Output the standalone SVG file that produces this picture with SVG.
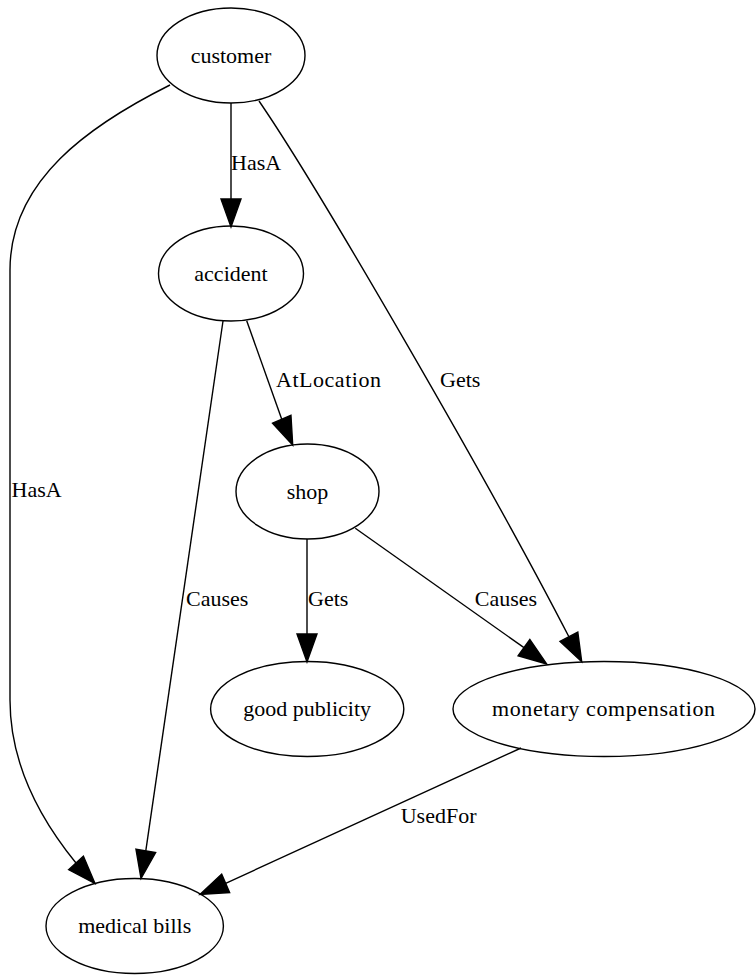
<svg xmlns="http://www.w3.org/2000/svg" width="756" height="976" viewBox="0 0 756 976">
<style>
.node ellipse{fill:none;stroke:#000;stroke-width:1.4}
.node text{font-size:22px;text-anchor:middle;fill:#000}
.edge path{fill:none;stroke:#000;stroke-width:1.4}
.edge polygon{fill:#000;stroke:#000;stroke-width:1.4}
.edge text{font-size:22px;fill:#000}
</style>
<rect width="756" height="976" fill="#fff"/>
<g id="connectors" font-family="'Liberation Serif', 'Times New Roman', Times, 'DejaVu Serif', serif">
  <g class="edge" id="e-customer-accident">
    <path d="M231,103 L231,199"/>
    <polygon points="221,199 241,199 231,227"/>
    <text x="231" y="170">HasA</text>
  </g>
  <g class="edge" id="e-customer-medical">
    <path d="M170,85 C90,125 10,180 10,270 L10,700 C10,770 45,825 76,863"/>
    <polygon points="68.6,869.7 83.4,856.1 95,883.5"/>
    <text x="11.5" y="496.7">HasA</text>
  </g>
  <g class="edge" id="e-customer-monetary">
    <path d="M259,101 C320,190 491,485.7 568.9,636.8"/>
    <polygon points="560,641.4 577.8,632.2 581.7,661.7"/>
    <text x="440" y="386.7">Gets</text>
  </g>
  <g class="edge" id="e-accident-shop">
    <path d="M246.7,320.7 L281.75,419.24"/>
    <polygon points="272.55,423.2 290.95,415.3 292.7,445"/>
    <text x="276" y="387.3" textLength="105" lengthAdjust="spacing">AtLocation</text>
  </g>
  <g class="edge" id="e-accident-medical">
    <path d="M223,321 L145.8,850.9"/>
    <polygon points="135.95,849.2 155.65,852.6 141,878.5"/>
    <text x="186" y="606">Causes</text>
  </g>
  <g class="edge" id="e-shop-good">
    <path d="M307,539 L307,634"/>
    <polygon points="297,634 317,634 307,662"/>
    <text x="308" y="606">Gets</text>
  </g>
  <g class="edge" id="e-shop-monetary">
    <path d="M355.3,528.3 L524,647.65"/>
    <polygon points="518.16,655.76 529.84,639.54 546.7,664"/>
    <text x="474.8" y="606">Causes</text>
  </g>
  <g class="edge" id="e-monetary-medical">
    <path d="M521,748 L225.65,883.3"/>
    <polygon points="221.64,874.1 229.66,892.5 200,894.5"/>
    <text x="400.7" y="822.7">UsedFor</text>
  </g>
</g>
<g id="nodes" font-family="'Liberation Serif', 'Times New Roman', Times, 'DejaVu Serif', serif">
<g class="node" id="customer">
  <ellipse cx="231" cy="55.5" rx="74" ry="47.5"/>
  <text x="231" y="62.5">customer</text>
</g>
<g class="node" id="accident">
  <ellipse cx="231" cy="273.5" rx="72.5" ry="47.5"/>
  <text x="231" y="280.5">accident</text>
</g>
<g class="node" id="shop">
  <ellipse cx="307.5" cy="491.5" rx="71.5" ry="47.5"/>
  <text x="307.5" y="498.5">shop</text>
</g>
<g class="node" id="good_publicity">
  <ellipse cx="307.2" cy="709" rx="96.6" ry="47.5"/>
  <text x="307.2" y="716">good publicity</text>
</g>
<g class="node" id="monetary_compensation">
  <ellipse cx="604" cy="709" rx="151" ry="47.5"/>
  <text x="603.5" y="716" textLength="223" lengthAdjust="spacing">monetary compensation</text>
</g>
<g class="node" id="medical_bills">
  <ellipse cx="134.7" cy="926" rx="88.7" ry="47.5"/>
  <text x="134.7" y="933">medical bills</text>
</g>
</g>
</svg>
